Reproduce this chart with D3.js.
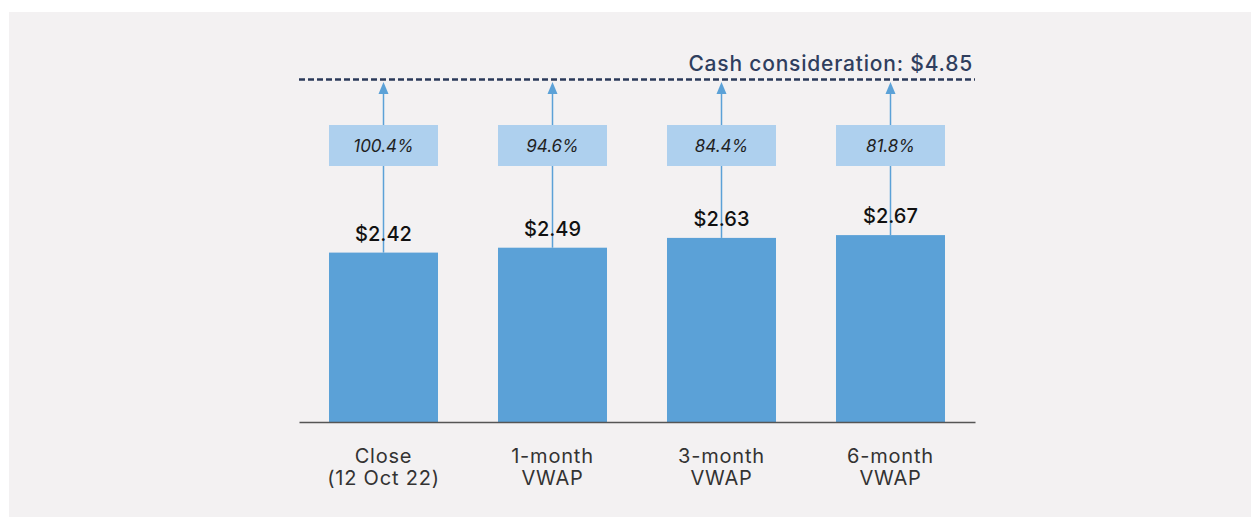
<!DOCTYPE html>
<html><head><meta charset="utf-8">
<script src="https://cdn.jsdelivr.net/npm/d3@7"></script>
<style>
html,body{margin:0;padding:0;background:#fff;}
svg{display:block;}
</style></head>
<body>
<svg id="chart" width="1251" height="517"></svg>
<script>
const categories = [["Close","(12 Oct 22)"],["1-month","VWAP"],["3-month","VWAP"],["6-month","VWAP"]];
const prices = [2.42, 2.49, 2.63, 2.67];
const premiums = ["100.4%","94.6%","84.4%","81.8%"];
const priceLabels = ["$2.42","$2.49","$2.63","$2.67"];
const cashConsideration = 4.85;
const cashLabel = "Cash consideration: $4.85";

const FONT = "Inter, 'Open Sans', sans-serif";
const svg = d3.select("#chart");
svg.append("rect").attr("x",9).attr("y",12).attr("width",1242).attr("height",505).attr("fill","#f3f1f2");

const x = d3.scaleBand().domain(d3.range(categories.length)).range([299,975]).paddingInner(0.355).paddingOuter(0.1775);
const y = d3.scaleLinear().domain([0,5]).range([422,72]);

const lineY = y(cashConsideration) - 3;
const g = svg.append("g");
// bars
g.selectAll("rect.bar").data(prices).join("rect").attr("class","bar")
  .attr("x",(d,i)=>x(i)).attr("width",x.bandwidth())
  .attr("y",d=>y(d)).attr("height",d=>y(0)-y(d)).attr("fill","#5ba1d7");

// arrows
const arrowTip = lineY + 2.5;
g.selectAll("line.arrow").data(prices).join("line").attr("class","arrow")
  .attr("x1",(d,i)=>x(i)+x.bandwidth()/2).attr("x2",(d,i)=>x(i)+x.bandwidth()/2)
  .attr("y1",d=>y(d)).attr("y2",arrowTip+10).attr("stroke","#5ba1d7").attr("stroke-width",1.5);
g.selectAll("path.head").data(prices).join("path").attr("class","head")
  .attr("d",(d,i)=>{const cx=x(i)+x.bandwidth()/2;return `M${cx},${arrowTip} L${cx-5},${arrowTip+12} L${cx+5},${arrowTip+12} Z`;})
  .attr("fill","#5ba1d7");

// premium boxes
g.selectAll("rect.box").data(premiums).join("rect").attr("class","box")
  .attr("x",(d,i)=>x(i)).attr("width",x.bandwidth()).attr("y",125).attr("height",41).attr("fill","#aed0ee");
g.selectAll("text.prem").data(premiums).join("text").attr("class","prem")
  .attr("x",(d,i)=>x(i)+x.bandwidth()/2).attr("y",152).attr("text-anchor","middle")
  .attr("font-family",FONT).attr("font-style","italic").attr("font-size",17).attr("fill","#1f1f1f").text(d=>d);

// value labels
g.selectAll("text.val").data(prices).join("text").attr("class","val")
  .attr("x",(d,i)=>x(i)+x.bandwidth()/2).attr("y",d=>y(d)-12).attr("text-anchor","middle")
  .attr("font-family",FONT).attr("font-weight",500).attr("font-size",20).attr("fill","#111").text((d,i)=>priceLabels[i]);

// axis
const xAxis = d3.axisBottom(x).tickSize(0).tickFormat("");
const ax = svg.append("g").attr("transform",`translate(0,${y(0)})`).call(xAxis);
ax.select(".domain").attr("stroke","#555").attr("stroke-width",1.5);
categories.forEach((c,i)=>{
  const cx = x(i)+x.bandwidth()/2;
  c.forEach((line,j)=>svg.append("text").attr("x",cx).attr("y",463+j*22).attr("text-anchor","middle")
    .attr("font-family",FONT).attr("font-size",20).attr("letter-spacing",0.8).attr("fill","#333").text(line));
});

// cash consideration dashed line
svg.append("line").attr("x1",299).attr("x2",975).attr("y1",lineY).attr("y2",lineY)
  .attr("stroke","#2b3a5a").attr("stroke-width",2.4).attr("stroke-dasharray","6,3");
svg.append("text").attr("x",973).attr("y",lineY-8.5).attr("text-anchor","end")
  .attr("font-family",FONT).attr("font-weight",500).attr("font-size",21).attr("letter-spacing",0.8)
  .attr("fill","#2f3e5e").text(cashLabel);
</script>
</body></html>
